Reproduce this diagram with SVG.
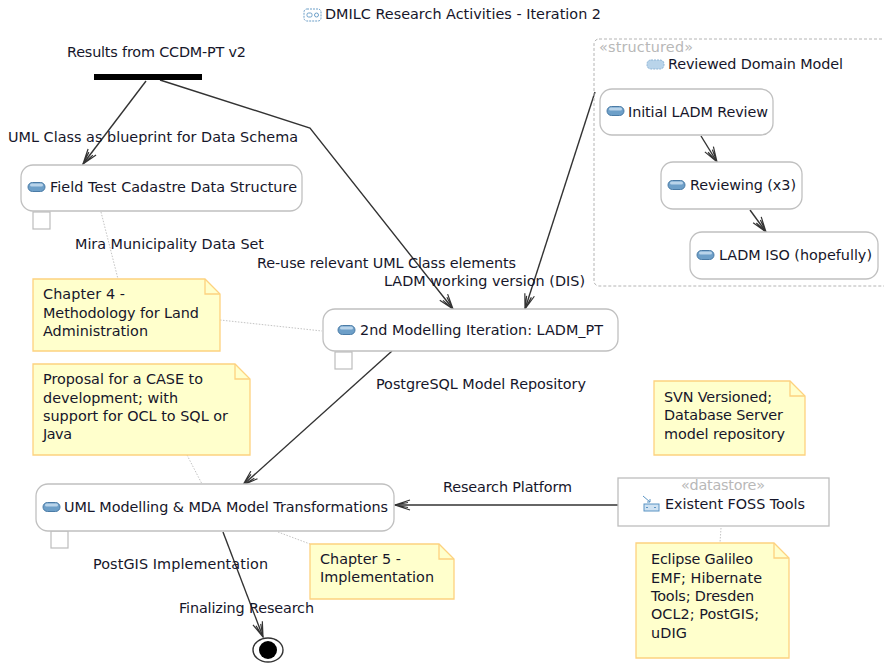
<svg xmlns="http://www.w3.org/2000/svg" width="884" height="664" viewBox="0 0 884 664">
<style>
text{font-family:"DejaVu Sans",sans-serif;font-size:14.4px;fill:#16162a}
.st{fill:#b8b8b8}
.node{fill:#fff;stroke:#c0c0c0;stroke-width:1.3}
.pin{fill:#fff;stroke:#bdbdbd;stroke-width:1.2}
.note{fill:#ffffcc;stroke:#fdd27f;stroke-width:1.3}
.fold{fill:none;stroke:#fdd27f;stroke-width:1.3}
.link{fill:none;stroke:#c4c4c4;stroke-width:1;stroke-dasharray:1.5 1.5}
.edge{fill:none;stroke:#333;stroke-width:1.4}
.icon{fill:#6d9fc8;stroke:#4a7ba6;stroke-width:1}
.hl{fill:#b9d4ea}
</style>
<defs>
<g id="act"><rect class="icon" x="0" y="-4.5" width="17" height="9" rx="4.5"/><rect class="hl" x="2" y="-3.5" width="13" height="3" rx="1.5"/></g>
<marker id="arr" markerWidth="18" markerHeight="12" refX="16" refY="6" orient="auto" markerUnits="userSpaceOnUse"><path d="M1 1L16 6L1 11M3 3.5L16 6L3 8.5" fill="none" stroke="#333" stroke-width="1.2"/></marker>
</defs>
<g id="title"><g fill="none" stroke="#6d9fc8" stroke-width="1"><rect x="304" y="9" width="17" height="12" rx="3" stroke-dasharray="2 1"/><rect x="307" y="13" width="5" height="4" rx="1.5"/><circle cx="316.500" cy="15" r="2"/></g><text x="325" y="19" textLength="276">DMILC Research Activities - Iteration 2</text></g>
<g id="connectors">
<path class="edge" marker-end="url(#arr)" d="M146 81L83 164"/>
<path class="edge" marker-end="url(#arr)" d="M160 80L310 128L453 309"/>
<path class="edge" marker-end="url(#arr)" d="M595 92L525 309"/>
<path class="edge" marker-end="url(#arr)" d="M701 136L717 162"/>
<path class="edge" marker-end="url(#arr)" d="M750 210L766 232"/>
<path class="edge" marker-end="url(#arr)" d="M392 351L243 485"/>
<path class="edge" marker-end="url(#arr)" d="M618 505L395 505"/>
<path class="edge" marker-end="url(#arr)" d="M223 532L263 637"/>
<path class="link" d="M101 212L118 279M220 320L322 331M187 455L202 484M278 532L310 544M721 528L720 543"/>
</g>
<g id="fork"><rect x="94" y="74" width="108" height="6" fill="#000"/><text x="67" y="57" textLength="179">Results from CCDM-PT v2</text></g>
<g id="structured"><rect x="594" y="39" width="300" height="247" rx="5" fill="none" stroke="#b4b4b4" stroke-dasharray="3 2"/><text class="st" x="599" y="52" textLength="94">«structured»</text><rect x="647" y="60" width="17" height="9" rx="4" fill="#b9d4ea" stroke="#8fb5d6" stroke-dasharray="2 1"/><text x="668" y="69" textLength="175">Reviewed Domain Model</text></g>
<g id="n1"><rect class="node" x="600" y="89" width="173" height="46" rx="12"/><use href="#act" x="607" y="111"/><text x="628" y="117" textLength="140">Initial LADM Review</text></g>
<g id="n2"><rect class="node" x="661" y="162" width="141" height="47" rx="12"/><use href="#act" x="668" y="185"/><text x="690" y="190" textLength="106">Reviewing (x3)</text></g>
<g id="n3"><rect class="node" x="690" y="232" width="188" height="47" rx="12"/><use href="#act" x="697" y="255"/><text x="719" y="260" textLength="153">LADM ISO (hopefully)</text></g>
<g id="n4"><rect class="pin" x="33" y="212" width="17" height="17"/><rect class="node" x="21" y="165" width="281" height="46" rx="12"/><use href="#act" x="28" y="187"/><text x="50" y="192" textLength="247">Field Test Cadastre Data Structure</text></g>
<g id="n5"><rect class="pin" x="335" y="352" width="17" height="17"/><rect class="node" x="323" y="309" width="295" height="42" rx="12"/><use href="#act" x="338" y="330"/><text x="360" y="335" textLength="243">2nd Modelling Iteration: LADM_PT</text></g>
<g id="n6"><rect class="pin" x="51" y="531" width="17" height="17"/><rect class="node" x="36" y="484" width="358" height="47" rx="12"/><use href="#act" x="43" y="507"/><text x="64" y="512" textLength="324">UML Modelling &amp; MDA Model Transformations</text></g>
<g id="n7"><rect x="618" y="478" width="211" height="48" fill="#fff" stroke="#bdbdbd" stroke-width="1.3"/><text class="st" x="681" y="490" textLength="84">«datastore»</text><g fill="none" stroke="#5b94c4"><rect x="644" y="504" width="15" height="7" fill="#cfe2f2"/><path d="M643 496L650 502M647 502H650V499M646 507.500H648M654 507.500H656"/></g><text x="665" y="509" textLength="140">Existent FOSS Tools</text></g>
<g id="end"><ellipse cx="268" cy="650" rx="15" ry="12" fill="#fff" stroke="#333" stroke-width="1.4"/><circle cx="268" cy="650" r="9" fill="#000"/></g>
<g id="note1"><path class="note" d="M33 279H205L220 294V351H33Z"/><path class="fold" d="M205 279V294H220"/><text x="43" y="299" textLength="82">Chapter 4 -</text><text x="43" y="318" textLength="156">Methodology for Land</text><text x="43" y="336" textLength="105">Administration</text></g>
<g id="note2"><path class="note" d="M33 364H235L250 379V455H33Z"/><path class="fold" d="M235 364V379H250"/><text x="43" y="384" textLength="160">Proposal for a CASE to</text><text x="43" y="403" textLength="135">development; with</text><text x="43" y="421" textLength="185">support for OCL to SQL or</text><text x="43" y="439" textLength="29">Java</text></g>
<g id="note3"><path class="note" d="M654 381H790L805 396V455H654Z"/><path class="fold" d="M790 381V396H805"/><text x="664" y="402" textLength="108">SVN Versioned;</text><text x="664" y="420" textLength="119">Database Server</text><text x="664" y="439" textLength="121">model repository</text></g>
<g id="note4"><path class="note" d="M310 544H439L454 559V599H310Z"/><path class="fold" d="M439 544V559H454"/><text x="320" y="564" textLength="81">Chapter 5 -</text><text x="320" y="582" textLength="114">Implementation</text></g>
<g id="note5"><path class="note" d="M636 543H774L789 558V658H636Z"/><path class="fold" d="M774 543V558H789"/><text x="651" y="564" textLength="102">Eclipse Galileo</text><text x="651" y="583" textLength="111">EMF; Hibernate</text><text x="651" y="601" textLength="103">Tools; Dresden</text><text x="651" y="619" textLength="108">OCL2; PostGIS;</text><text x="651" y="638" textLength="36">uDIG</text></g>
<g id="labels">
<text x="8" y="142" textLength="290">UML Class as blueprint for Data Schema</text>
<text x="75" y="249" textLength="189">Mira Municipality Data Set</text>
<text x="257" y="268" textLength="259">Re-use relevant UML Class elements</text>
<text x="384" y="286" textLength="201">LADM working version (DIS)</text>
<text x="376" y="389" textLength="210">PostgreSQL Model Repository</text>
<text x="443" y="492" textLength="129">Research Platform</text>
<text x="93" y="569" textLength="175">PostGIS Implementation</text>
<text x="179" y="613" textLength="135">Finalizing Research</text>
</g>
</svg>
